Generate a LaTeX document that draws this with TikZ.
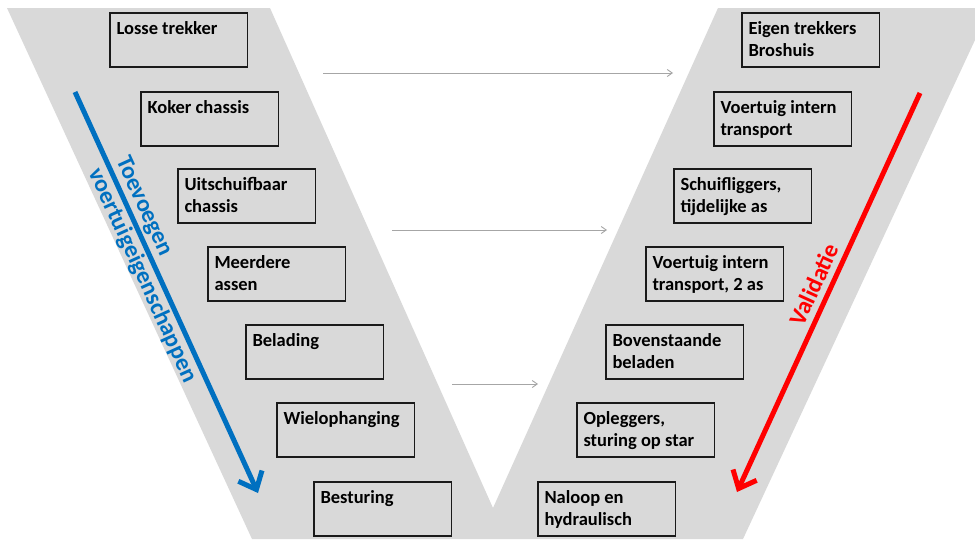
\documentclass[tikz,border=0pt]{standalone}
\usepackage{fontspec}
\setmainfont{Carlito}
\usetikzlibrary{arrows.meta}

\definecolor{vgray}{HTML}{D9D9D9}
\definecolor{linkgray}{HTML}{A6A6A6}
\definecolor{addblue}{HTML}{0070C0}
\definecolor{checkred}{HTML}{FF0000}
\definecolor{boxline}{HTML}{1A1A1A}

% text block of one step: fixed size, first baseline 21pt below the top
\newcommand\steplines[1]{\parbox[c][54pt][t]{137.5pt}{\leftskip=6.5pt\rightskip=0pt plus 1fil\parindent=0pt\fontsize{18.5}{22}\selectfont\bfseries\rule{0pt}{21pt}#1}}

\begin{document}
\begin{tikzpicture}[x=1pt,y=-1pt,
  stepbox/.style={draw=boxline, line width=1.8pt, anchor=north west, inner sep=0pt, outer sep=0pt},
  link/.style={draw=linkgray, line width=0.9pt, -{Straight Barb[length=5pt,width=7pt]}},
  bigarrow/.style={line width=5pt, -{Straight Barb[length=15pt,width=26pt]}},
  sidelabel/.style={inner sep=0pt, align=left, font=\fontsize{24}{27}\selectfont\bfseries},
]
\useasboundingbox (0,0) rectangle (975,539);
\fill[white] (0,0) rectangle (975,539);

% the V band
\fill[vgray] (7,8) -- (270,8) -- (493,508) -- (718,8) -- (975,8) -- (975,40)
  -- (743,539) -- (252,539) -- cycle;

% left arm: adding vehicle properties
\node[stepbox] (L1) at (110,13)  {\steplines{Losse trekker}};
\node[stepbox] (L2) at (141,92)  {\steplines{Koker chassis}};
\node[stepbox] (L3) at (178,169) {\steplines{Uitschuifbaar\\chassis}};
\node[stepbox] (L4) at (208,247) {\steplines{Meerdere\\assen}};
\node[stepbox] (L5) at (246,325) {\steplines{Belading}};
\node[stepbox] (L6) at (277,403) {\steplines{Wielophanging}};
\node[stepbox] (L7) at (314,482) {\steplines{Besturing}};

% right arm: validation
\node[stepbox] (R1) at (742,13)  {\steplines{Eigen trekkers\\Broshuis}};
\node[stepbox] (R2) at (714,92)  {\steplines{Voertuig intern\\transport}};
\node[stepbox] (R3) at (674,169) {\steplines{Schuifliggers,\\tijdelijke as}};
\node[stepbox] (R4) at (646,247) {\steplines{Voertuig intern\\transport, 2 as}};
\node[stepbox] (R5) at (606,325) {\steplines{Bovenstaande\\beladen}};
\node[stepbox] (R6) at (577,403) {\steplines{Opleggers,\\sturing op star}};
\node[stepbox] (R7) at (538,482) {\steplines{Naloop en\\hydraulisch}};

% thin links across the V
\coordinate (k1a) at (323,73);  \coordinate (k1b) at (673,73);
\coordinate (k2a) at (392,230); \coordinate (k2b) at (607,230);
\coordinate (k3a) at (452,384); \coordinate (k3b) at (538,384);
\draw[link] (k1a) -- (k1b);
\draw[link] (k2a) -- (k2b);
\draw[link] (k3a) -- (k3b);

% direction arrows with their labels
\coordinate (addtop) at (75,92);   \coordinate (addend) at (258,493);
\coordinate (valtop) at (920,93);  \coordinate (valend) at (737,492);
\draw[bigarrow, addblue] (addtop) -- (addend);
\draw[bigarrow, checkred] (valtop) -- (valend);

\node[sidelabel, text=addblue, rotate=-65.5, anchor=west] (addlabel) at (107.6,164.0)
  {Toevoegen\\[3pt]voertuigeigenschappen};
\node[sidelabel, text=checkred, rotate=65.4, anchor=center] (vallabel) at (814,284.5)
  {Validatie};
\end{tikzpicture}
\end{document}
